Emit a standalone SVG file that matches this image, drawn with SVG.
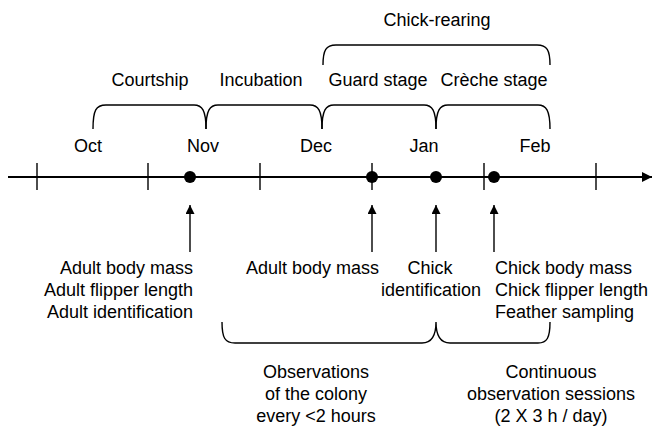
<svg xmlns="http://www.w3.org/2000/svg" width="654" height="426" viewBox="0 0 654 426">
<defs>
<style>
text{font-family:"Liberation Sans",Arial,sans-serif;font-size:18px;fill:#000}
.m{text-anchor:middle}
.e{text-anchor:end}
.br{fill:none;stroke:#000;stroke-width:1.4}
.ln{stroke:#000;stroke-width:2;fill:none}
.tk{stroke:#000;stroke-width:1.4}
</style>
<marker id="ah" viewBox="0 0 10 10" refX="10" refY="5" markerWidth="10" markerHeight="10" markerUnits="userSpaceOnUse" orient="auto"><path d="M0,0 L10,5 L0,10 z" fill="#000"/></marker>
<marker id="ah2" viewBox="0 0 10 10" refX="10" refY="5" markerWidth="9" markerHeight="9" markerUnits="userSpaceOnUse" orient="auto"><path d="M0,0 L10,5 L0,10 z" fill="#000"/></marker>
</defs>
<rect width="654" height="426" fill="#fff"/>
<g id="phases">
<text class="m" x="437" y="26">Chick-rearing</text>
<text class="m" x="150" y="86">Courtship</text>
<text class="m" x="261" y="86">Incubation</text>
<text class="m" x="378" y="86">Guard stage</text>
<text class="m" x="494" y="86">Crèche stage</text>
</g>
<g id="months">
<text class="m" x="88" y="152">Oct</text>
<text class="m" x="203" y="152">Nov</text>
<text class="m" x="316" y="152">Dec</text>
<text class="m" x="424" y="152">Jan</text>
<text class="m" x="535" y="152">Feb</text>
</g>
<g id="braces">
<path class="br" d="M323,65 C323,50 326,45 336,45 L537,45 C547,45 550,50 550,65"/>
<path class="br" d="M93,129 C93,110 96,105 106,105 L194,105 C202,105 206,110 206,129"/>
<path class="br" d="M206,129 C206,110 210,105 218,105 L310,105 C318,105 322,110 322,129"/>
<path class="br" d="M322,129 C322,110 326,105 334,105 L424,105 C432,105 436,110 436,129"/>
<path class="br" d="M436,129 C436,110 440,105 448,105 L538,105 C546,105 550,110 550,129"/>
<path class="br" d="M222,322 C222,338 225,343 235,343 L422,343 C430,343 436,338 436,322 C436,338 442,343 450,343 L538,343 C547,343 550,338 550,322"/>
</g>
<g id="timeline">
<line class="ln" x1="8" y1="177" x2="652" y2="177" marker-end="url(#ah)"/>
<line class="tk" x1="37" y1="163" x2="37" y2="190"/>
<line class="tk" x1="148" y1="163" x2="148" y2="190"/>
<line class="tk" x1="260" y1="163" x2="260" y2="190"/>
<line class="tk" x1="372" y1="163" x2="372" y2="190"/>
<line class="tk" x1="484" y1="163" x2="484" y2="190"/>
<line class="tk" x1="596" y1="163" x2="596" y2="190"/>
<circle cx="190" cy="177" r="6"/>
<circle cx="372" cy="177" r="6"/>
<circle cx="436" cy="177" r="6"/>
<circle cx="494" cy="177" r="6"/>
</g>
<g id="connectors">
<line class="tk" x1="190" y1="252" x2="190" y2="205" marker-end="url(#ah2)"/>
<line class="tk" x1="372" y1="252" x2="372" y2="205" marker-end="url(#ah2)"/>
<line class="tk" x1="436" y1="252" x2="436" y2="205" marker-end="url(#ah2)"/>
<line class="tk" x1="494" y1="252" x2="494" y2="205" marker-end="url(#ah2)"/>
</g>
<g id="labels">
<text class="e" x="193" y="274">Adult body mass</text>
<text class="e" x="193" y="296">Adult flipper length</text>
<text class="e" x="193" y="318">Adult identification</text>
<text class="e" x="379" y="274">Adult body mass</text>
<text class="m" x="430" y="274">Chick</text>
<text class="m" x="431" y="296">identification</text>
<text x="495" y="274">Chick body mass</text>
<text x="495" y="296">Chick flipper length</text>
<text x="495" y="318">Feather sampling</text>
<text class="m" x="316" y="378">Observations</text>
<text class="m" x="316" y="400">of the colony</text>
<text class="m" x="316" y="422">every &lt;2 hours</text>
<text class="m" x="551" y="378">Continuous</text>
<text class="m" x="551" y="400">observation sessions</text>
<text class="m" x="551" y="422">(2 X 3 h / day)</text>
</g>
</svg>
